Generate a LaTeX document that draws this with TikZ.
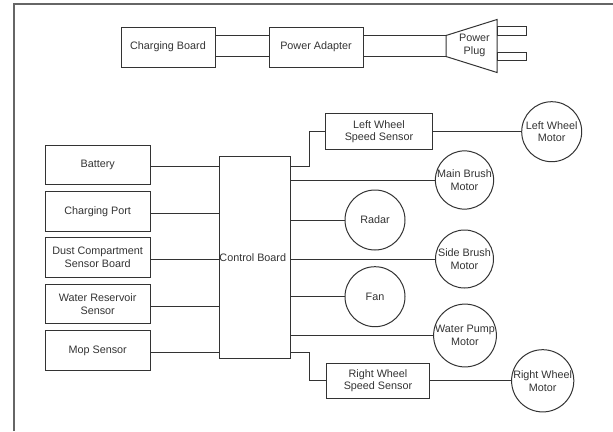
\documentclass[tikz,border=0pt]{standalone}
\usepackage{fontspec}
\setmainfont{Liberation Sans}
\usetikzlibrary{positioning}
\definecolor{ink}{HTML}{333333}
\tikzset{
  lbl/.style={font=\fontsize{10.8}{12.8}\selectfont, text=ink, align=center, inner sep=0pt},
  box/.style={draw=ink, line width=1pt, inner sep=0pt},
  circ/.style={draw=ink, line width=1pt, circle, inner sep=0pt, minimum size=60pt, font=\fontsize{10.8}{12.8}\selectfont, text=ink, align=center},
  wire/.style={draw=ink, line width=1pt},
}
\begin{document}
\begin{tikzpicture}[x=1pt,y=-1pt]
\useasboundingbox (0,0) rectangle (613,431);
% frame
\draw[gray!80!black, line width=1.2pt] (14,431) -- (14,4) -- (613,4);

% top chain
\node[box, minimum width=94pt, minimum height=40pt, lbl] (cb) at (168,47) {Charging Board};
\node[box, minimum width=94pt, minimum height=40pt, lbl] (pa) at (316,47) {Power Adapter};
\draw[wire] (cb.east |- 0,35.5) -- (pa.west |- 0,35.5);
\draw[wire] (cb.east |- 0,56.5) -- (pa.west |- 0,56.5);
\coordinate (plA) at (446,35.5);
\coordinate (plB) at (446,56.5);
\coordinate (plC) at (497,72.5);
\coordinate (plD) at (497,19.5);
\draw[wire] (pa.east |- 0,35.5) -- (plA);
\draw[wire] (pa.east |- 0,56.5) -- (plB);
\draw[wire, line join=miter] (plA) -- (plB) -- (plC) -- (plD) -- cycle;
\node[lbl] (plug) at (474.5,45.5) {Power\\Plug};
\draw[wire] (plD |- 0,26.8) rectangle (526,35);
\draw[wire] (plD |- 0,52.3) rectangle (526,60);

% control board
\node[box, minimum width=70.5pt, minimum height=201.5pt, lbl] (ctl) at (255,257.5) {};
\node[lbl, anchor=west] (ctltxt) at (ctl.west) {Control Board};

% left boxes
\tikzset{lbox/.style={box, lbl, minimum width=105pt, minimum height=39.5pt}}
\node[lbox] (bat) at (97.7,165) {Battery};
\node[lbox] (cp)  at (97.7,211.5) {Charging Port};
\node[lbox] (dust) at (97.7,257.5) {Dust Compartment\\Sensor Board};
\node[lbox] (wr) at (97.7,304) {Water Reservoir\\Sensor};
\node[lbox] (mop) at (97.7,350.5) {Mop Sensor};
\foreach \n/\y in {bat/166.5, cp/213, dust/259.5, wr/306, mop/352.3}
  \draw[wire] (\n.east |- 0,\y) -- (ctl.west |- 0,\y);

% right side
\node[box, lbl, minimum width=106.5pt, minimum height=35.5pt] (lws) at (379,131.7) {Left Wheel\\Speed Sensor};
\node[circ] (lwm) at (551.7,131.7) {Left Wheel\\Motor};
\draw[wire] (ctl.east |- 0,166.7) -- (309.3,166.7) -- (309.3,131.7) -- (lws.west);
\draw[wire] (lws.east) -- (lwm.west);

\node[circ, minimum size=58pt] (mbm) at (464.5,180) {Main Brush\\Motor};
\draw[wire] (ctl.east |- mbm) -- (mbm.west);

\node[circ] (radar) at (375,220) {Radar};
\draw[wire] (ctl.east |- radar) -- (radar.west);

\node[circ, minimum size=58pt] (sbm) at (464.5,259) {Side Brush\\Motor};
\draw[wire] (ctl.east |- sbm) -- (sbm.west);

\node[circ] (fan) at (375,296.7) {Fan};
\draw[wire] (ctl.east |- fan) -- (fan.west);

\node[circ] (wpm) at (465,335.5) {Water Pump\\Motor};
\draw[wire] (ctl.east |- wpm) -- (wpm.west);

\node[box, lbl, minimum width=102.5pt, minimum height=35pt] (rws) at (378,380.8) {Right Wheel\\Speed Sensor};
\node[circ] (rwm) at (542.7,380.8) {Right Wheel\\Motor};
\draw[wire] (ctl.east |- 0,352.3) -- (309.3,352.3) -- (309.3,380.8) -- (rws.west);
\draw[wire] (rws.east) -- (rwm.west);
\end{tikzpicture}
\end{document}
